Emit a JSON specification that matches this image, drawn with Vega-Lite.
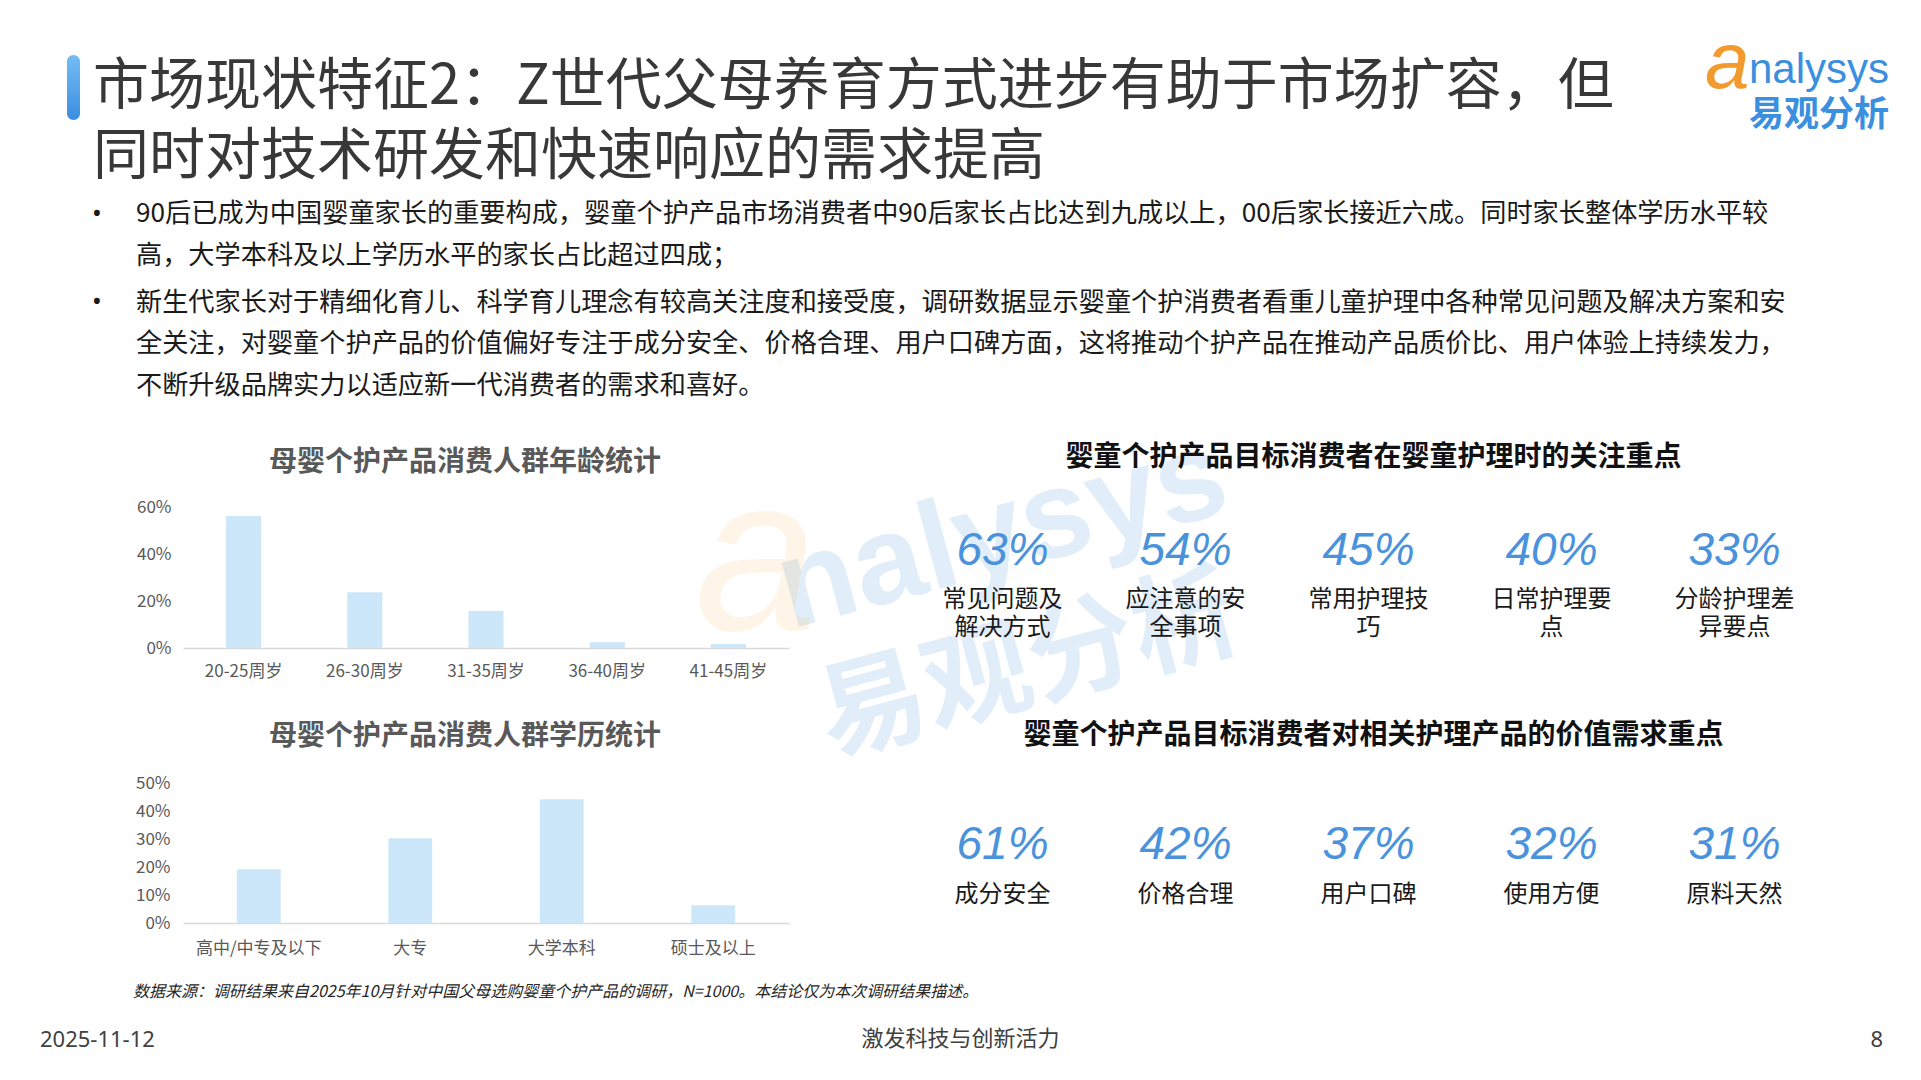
{
  "$schema": "https://vega.github.io/schema/vega-lite/v6.json",
  "background": "white",
  "padding": 0,
  "columns": 6,
  "spacing": 0,
  "bounds": "flush",
  "align": "each",
  "concat": [
    {"width": 67, "height": 55, "data": {"values": []}, "mark": "point",
     "title": {"text": ["市场现状特征2：Z世代父母养育方式进步有助于市场扩容，但", "同时对技术研发和快速响应的需求提高"], "orient": "bottom", "anchor": "start", "frame": "group", "align": "left", "baseline": "top", "dx": 93, "offset": 5, "fontSize": 56, "fontWeight": "normal", "lineHeight": 70, "color": "#383838", "font": "Noto Sans CJK SC"}},
    {"width": 1, "height": 1, "data": {"values": []}, "mark": "point"},
    {"width": 103, "height": 55, "data": {"values": []}, "mark": "point",
     "title": {"text": ["90后已成为中国婴童家长的重要构成，婴童个护产品市场消费者中90后家长占比达到九成以上，00后家长接近六成。同时家长整体学历水平较", "高，大学本科及以上学历水平的家长占比超过四成；"],
               "subtitle": ["新生代家长对于精细化育儿、科学育儿理念有较高关注度和接受度，调研数据显示婴童个护消费者看重儿童护理中各种常见问题及解决方案和安", "全关注，对婴童个护产品的价值偏好专注于成分安全、价格合理、用户口碑方面，这将推动个护产品在推动产品质价比、用户体验上持续发力，", "不断升级品牌实力以适应新一代消费者的需求和喜好。"],
               "orient": "bottom", "anchor": "start", "frame": "group", "align": "left", "baseline": "top", "dx": 56, "offset": 146.3, "fontSize": 26.2, "fontWeight": "normal", "lineHeight": 42, "color": "#1a1a1a", "font": "Noto Sans CJK SC",
               "subtitleFont": "Noto Sans CJK SC", "subtitleFontSize": 26.2, "subtitleLineHeight": 41.5, "subtitlePadding": 20, "subtitleColor": "#1a1a1a", "subtitleFontWeight": "normal"}},
    {"width": 1, "height": 55, "data": {"values": []}, "mark": "point",
     "title": {"text": "•", "subtitle": "•", "orient": "bottom", "anchor": "start", "frame": "group", "align": "left", "baseline": "top", "dx": -91, "offset": 146.3, "fontSize": 26, "font": "Noto Sans", "fontWeight": "normal", "color": "#1a1a1a",
               "subtitleFont": "Noto Sans", "subtitleFontSize": 26, "subtitleColor": "#1a1a1a", "subtitleFontWeight": "normal", "subtitlePadding": 62}},
    {"width": 122, "height": 55, "data": {"values": []}, "mark": "point",
     "title": {"text": "a", "orient": "bottom", "anchor": "start", "frame": "group", "align": "left", "baseline": "top", "dx": 916, "offset": -30, "fontSize": 80, "font": "Liberation Sans", "fontStyle": "italic", "fontWeight": "normal", "color": "#f29a2e"}},
    {"width": 915, "height": 55, "data": {"values": []}, "mark": "point",
     "title": {"text": "nalysys", "subtitle": "易观分析", "orient": "bottom", "anchor": "start", "frame": "group", "align": "left", "baseline": "top", "dx": 838, "offset": -5, "fontSize": 42, "font": "Liberation Sans", "fontWeight": "normal", "color": "#3a8fdf",
               "subtitleFont": "Noto Sans CJK SC", "subtitleFontSize": 35, "subtitleFontWeight": "bold", "subtitleColor": "#3a8fdf", "subtitlePadding": 6}},

    {"width": 1, "height": 1, "data": {"values": []}, "mark": "point"},
    {"width": 13, "height": 65, "data": {"values": [{"element": "accent"}]},
     "mark": {"type": "rect", "cornerRadius": 6.5, "fill": {"gradient": "linear", "x1": 0, "y1": 0, "x2": 0, "y2": 1, "stops": [{"offset": 0, "color": "#74bdf5"}, {"offset": 1, "color": "#3b8de0"}]}},
     "encoding": {}},
    {"width": 1, "height": 1, "data": {"values": []}, "mark": "point"},
    {"width": 1, "height": 1, "data": {"values": []}, "mark": "point"},
    {"width": 1, "height": 1, "data": {"values": []}, "mark": "point"},
    {"width": 1, "height": 1, "data": {"values": []}, "mark": "point"},

    {"width": 1, "height": 1, "data": {"values": []}, "mark": "point"},
    {"width": 1, "height": 1, "data": {"values": []}, "mark": "point"},
    {"width": 1, "height": 1, "data": {"values": []}, "mark": "point"},
    {"width": 1, "height": 1, "data": {"values": []}, "mark": "point"},
    {"width": 1, "height": 1, "data": {"values": []}, "mark": "point",
     "title": {"text": "nalysys", "orient": "bottom", "anchor": "start", "frame": "group", "align": "left", "baseline": "top", "angle": -15, "dx": -25, "offset": 406, "fontSize": 125, "font": "Liberation Sans", "fontWeight": "bold", "color": "rgba(66,146,214,0.16)"}},
    {"width": 1, "height": 1, "data": {"values": []}, "mark": "point"},

    {"width": 1, "height": 386, "data": {"values": []}, "mark": "point"},
    {"width": 1, "height": 1, "data": {"values": []}, "mark": "point"},
    {"width": 1, "height": 1, "data": {"values": []}, "mark": "point"},
    {"width": 1, "height": 1, "data": {"values": []}, "mark": "point",
     "title": {"text": "a", "orient": "bottom", "anchor": "start", "frame": "group", "align": "left", "baseline": "top", "dx": 512, "offset": 334, "fontSize": 220, "font": "Liberation Sans", "fontStyle": "italic", "fontWeight": "normal", "color": "rgba(245,160,50,0.11)"}},
    {"width": 1, "height": 1, "data": {"values": []}, "mark": "point",
     "title": {"text": "易观分析", "orient": "bottom", "anchor": "start", "frame": "group", "align": "left", "baseline": "top", "angle": -15, "dx": 19.7, "offset": 556, "fontSize": 108, "font": "Noto Sans CJK SC", "fontWeight": "bold", "color": "rgba(66,146,214,0.16)"}},
    {"width": 1, "height": 1, "data": {"values": []}, "mark": "point"},

    {"width": 1, "height": 1, "data": {"values": []}, "mark": "point"},
    {"width": 1, "height": 1, "data": {"values": []}, "mark": "point"},
    {"width": 1, "height": 1, "data": {"values": []}, "mark": "point"},
    {"width": 606, "height": 141,
     "title": {"text": "母婴个护产品消费人群年龄统计", "orient": "top", "anchor": "middle", "frame": "group", "baseline": "top", "dx": -21, "offset": 21.5, "fontSize": 28, "fontWeight": "bold", "color": "#595959", "font": "Noto Sans CJK SC"},
     "data": {"values": [
       {"age": "20-25周岁", "share": 0.562},
       {"age": "26-30周岁", "share": 0.237},
       {"age": "31-35周岁", "share": 0.157},
       {"age": "36-40周岁", "share": 0.025},
       {"age": "41-45周岁", "share": 0.017}
     ]},
     "mark": {"type": "bar", "color": "#cce7fa"},
     "encoding": {
       "x": {"field": "age", "type": "nominal", "sort": null, "scale": {"paddingInner": 0.71, "paddingOuter": 0.355},
             "axis": {"title": null, "labelAngle": 0, "labelFontSize": 17, "labelColor": "#595959", "labelPadding": 15.5, "ticks": false, "tickSize": 0, "domainColor": "#d9d9d9", "domainWidth": 1.5}},
       "y": {"field": "share", "type": "quantitative", "scale": {"domain": [0, 0.6]},
             "axis": {"title": null, "format": ".0%", "values": [0, 0.2, 0.4, 0.6], "grid": false, "domain": false, "ticks": false, "tickSize": 0, "labelFontSize": 17, "labelColor": "#595959", "labelPadding": 12}}
     }},
    {"width": 1, "height": 1, "data": {"values": []}, "mark": "point"},
    {"width": 915, "height": 141,
     "title": {"text": "婴童个护产品目标消费者在婴童护理时的关注重点", "orient": "top", "anchor": "middle", "frame": "group", "baseline": "top", "dx": 5, "offset": 35.5, "fontSize": 28, "fontWeight": "bold", "color": "#111111", "font": "Noto Sans CJK SC"},
     "data": {"values": [
       {"label": "常见问题及\n解决方式", "share": 0.63},
       {"label": "应注意的安\n全事项", "share": 0.54},
       {"label": "常用护理技\n巧", "share": 0.45},
       {"label": "日常护理要\n点", "share": 0.40},
       {"label": "分龄护理差\n异要点", "share": 0.33}
     ]},
     "encoding": {"x": {"field": "label", "type": "nominal", "sort": null, "scale": {"type": "point", "padding": 0.5}, "axis": null}},
     "layer": [
       {"mark": {"type": "text", "baseline": "top", "dy": -49, "fontSize": 46, "font": "Liberation Sans", "fontStyle": "italic", "color": "#4a93dc"},
        "encoding": {"text": {"field": "share", "type": "quantitative", "format": ".0%"}}},
       {"mark": {"type": "text", "baseline": "top", "dy": 10.5, "fontSize": 24, "lineHeight": 28, "lineBreak": "\n", "color": "#1a1a1a", "font": "Noto Sans CJK SC"},
        "encoding": {"text": {"field": "label", "type": "nominal"}}}
     ]},

    {"width": 1, "height": 135, "data": {"values": []}, "mark": "point"},
    {"width": 1, "height": 1, "data": {"values": []}, "mark": "point"},
    {"width": 1, "height": 1, "data": {"values": []}, "mark": "point"},
    {"width": 1, "height": 1, "data": {"values": []}, "mark": "point"},
    {"width": 1, "height": 1, "data": {"values": []}, "mark": "point"},
    {"width": 1, "height": 1, "data": {"values": []}, "mark": "point"},

    {"width": 1, "height": 1, "data": {"values": []}, "mark": "point"},
    {"width": 1, "height": 1, "data": {"values": []}, "mark": "point"},
    {"width": 1, "height": 1, "data": {"values": []}, "mark": "point"},
    {"width": 606, "height": 140,
     "title": {"text": "母婴个护产品消费人群学历统计", "orient": "top", "anchor": "middle", "frame": "group", "baseline": "top", "dx": -21, "offset": 23.5, "fontSize": 28, "fontWeight": "bold", "color": "#595959", "font": "Noto Sans CJK SC"},
     "data": {"values": [
       {"edu": "高中/中专及以下", "share": 0.192},
       {"edu": "大专", "share": 0.303},
       {"edu": "大学本科", "share": 0.442},
       {"edu": "硕士及以上", "share": 0.063}
     ]},
     "mark": {"type": "bar", "color": "#cce7fa"},
     "encoding": {
       "x": {"field": "edu", "type": "nominal", "sort": null, "scale": {"paddingInner": 0.71, "paddingOuter": 0.355},
             "axis": {"title": null, "labelAngle": 0, "labelFontSize": 17, "labelColor": "#595959", "labelPadding": 17.5, "ticks": false, "tickSize": 0, "domainColor": "#d9d9d9", "domainWidth": 1.5}},
       "y": {"field": "share", "type": "quantitative", "scale": {"domain": [0, 0.5]},
             "axis": {"title": null, "format": ".0%", "values": [0, 0.1, 0.2, 0.3, 0.4, 0.5], "grid": false, "domain": false, "ticks": false, "tickSize": 0, "labelFontSize": 17, "labelColor": "#595959", "labelPadding": 13}}
     }},
    {"width": 1, "height": 1, "data": {"values": []}, "mark": "point"},
    {"width": 915, "height": 140,
     "title": {"text": "婴童个护产品目标消费者对相关护理产品的价值需求重点", "orient": "top", "anchor": "middle", "frame": "group", "baseline": "top", "dx": 5, "offset": 33.5, "fontSize": 28, "fontWeight": "bold", "color": "#111111", "font": "Noto Sans CJK SC"},
     "data": {"values": [
       {"label": "成分安全", "share": 0.61},
       {"label": "价格合理", "share": 0.42},
       {"label": "用户口碑", "share": 0.37},
       {"label": "使用方便", "share": 0.32},
       {"label": "原料天然", "share": 0.31}
     ]},
     "encoding": {"x": {"field": "label", "type": "nominal", "sort": null, "scale": {"type": "point", "padding": 0.5}, "axis": null}},
     "layer": [
       {"mark": {"type": "text", "baseline": "top", "dy": -30.3, "fontSize": 46, "font": "Liberation Sans", "fontStyle": "italic", "color": "#4a93dc"},
        "encoding": {"text": {"field": "share", "type": "quantitative", "format": ".0%"}}},
       {"mark": {"type": "text", "baseline": "top", "dy": 30, "fontSize": 24, "color": "#1a1a1a", "font": "Noto Sans CJK SC"},
        "encoding": {"text": {"field": "label", "type": "nominal"}}}
     ]},

    {"width": 1, "height": 1, "data": {"values": []}, "mark": "point",
     "title": {"text": "数据来源：调研结果来自2025年10月针对中国父母选购婴童个护产品的调研，N=1000。本结论仅为本次调研结果描述。", "orient": "bottom", "anchor": "start", "frame": "group", "align": "left", "baseline": "top", "dx": 133, "offset": 60.4, "fontSize": 16, "fontStyle": "italic", "fontWeight": "normal", "color": "#262626", "font": "Noto Sans CJK SC"}},
    {"width": 1, "height": 1, "data": {"values": []}, "mark": "point",
     "title": {"text": "2025-11-12", "orient": "bottom", "anchor": "start", "frame": "group", "align": "left", "baseline": "top", "dx": -27, "offset": 105.5, "fontSize": 22, "fontWeight": "normal", "color": "#404040", "font": "Noto Sans"}},
    {"width": 1, "height": 1, "data": {"values": []}, "mark": "point"},
    {"width": 1, "height": 1, "data": {"values": []}, "mark": "point",
     "title": {"text": "激发科技与创新活力", "orient": "bottom", "anchor": "start", "frame": "group", "align": "center", "baseline": "top", "dx": 777.5, "offset": 105, "fontSize": 22, "fontWeight": "normal", "color": "#404040", "font": "Noto Sans CJK SC"}},
    {"width": 1, "height": 1, "data": {"values": []}, "mark": "point"},
    {"width": 1, "height": 1, "data": {"values": []}, "mark": "point",
     "title": {"text": "8", "orient": "bottom", "anchor": "start", "frame": "group", "align": "right", "baseline": "top", "dx": 972, "offset": 105.5, "fontSize": 22, "fontWeight": "normal", "color": "#404040", "font": "Noto Sans"}}
  ],
  "config": {
    "font": "Noto Sans CJK SC",
    "view": {"stroke": null},
    "axis": {"tickSize": 0}
  }
}
